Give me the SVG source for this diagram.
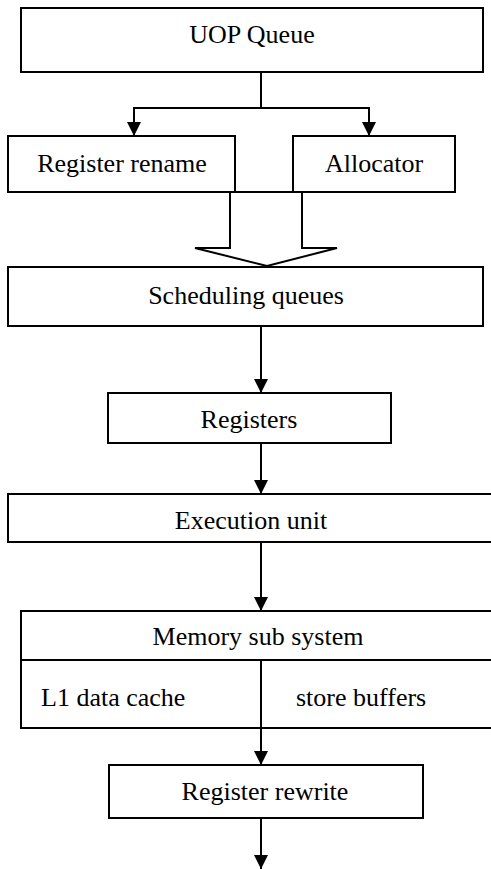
<svg xmlns="http://www.w3.org/2000/svg" width="491" height="869" viewBox="0 0 491 869">
<style>
.box{fill:#fff;stroke:#000;stroke-width:2}
.ln{fill:none;stroke:#000;stroke-width:2}
.t{font-family:"Liberation Serif","Times New Roman",serif;font-size:26px;fill:#000}
.m{text-anchor:middle}
</style>
<defs>
<marker id="ah" viewBox="0 0 14 14" refX="14" refY="7" markerWidth="14" markerHeight="14" markerUnits="userSpaceOnUse" orient="auto">
<path d="M0,0 L14,7 L0,14 z" fill="#000"/>
</marker>
</defs>
<g id="connectors">
<polyline class="ln" points="261,72 261,108"/>
<polyline class="ln" points="261,108 134,108 134,136" marker-end="url(#ah)"/>
<polyline class="ln" points="261,108 369,108 369,136" marker-end="url(#ah)"/>
<polygon id="merge-arrow" class="box" points="230,192 230,248 195,248 267,266 337,248 302,248 302,192"/>
<line class="ln" x1="261" y1="326" x2="261" y2="393" marker-end="url(#ah)"/>
<line class="ln" x1="261" y1="443" x2="261" y2="494" marker-end="url(#ah)"/>
<line class="ln" x1="261" y1="542" x2="261" y2="611" marker-end="url(#ah)"/>
<line class="ln" x1="261" y1="728" x2="261" y2="765" marker-end="url(#ah)"/>
<line class="ln" x1="261" y1="818" x2="261" y2="869" marker-end="url(#ah)"/>
</g>
<g id="uop-queue">
<rect class="box" x="21" y="8" width="462" height="64"/>
<text class="t m" x="252" y="43">UOP Queue</text>
</g>
<g id="register-rename">
<rect class="box" x="8" y="136" width="227" height="56"/>
<text class="t m" x="122" y="172">Register rename</text>
</g>
<g id="allocator">
<rect class="box" x="293" y="136" width="162" height="56"/>
<text class="t m" x="374" y="172">Allocator</text>
</g>
<g id="scheduling-queues">
<rect class="box" x="8" y="267" width="475" height="59"/>
<text class="t m" x="246" y="304">Scheduling queues</text>
</g>
<g id="registers">
<rect class="box" x="108" y="393" width="283" height="50"/>
<text class="t m" x="249" y="428">Registers</text>
</g>
<g id="execution-unit">
<rect class="box" x="8" y="494" width="495" height="48"/>
<text class="t m" x="251" y="529">Execution unit</text>
</g>
<g id="memory-sub-system">
<rect class="box" x="21" y="611" width="482" height="117"/>
<line class="ln" x1="21" y1="660" x2="503" y2="660"/>
<line class="ln" x1="261" y1="660" x2="261" y2="728"/>
<text class="t m" x="258" y="645">Memory sub system</text>
<text class="t" x="41" y="706">L1 data cache</text>
<text class="t" x="296" y="706">store buffers</text>
</g>
<g id="register-rewrite">
<rect class="box" x="109" y="765" width="314" height="53"/>
<text class="t m" x="265" y="800">Register rewrite</text>
</g>
</svg>
